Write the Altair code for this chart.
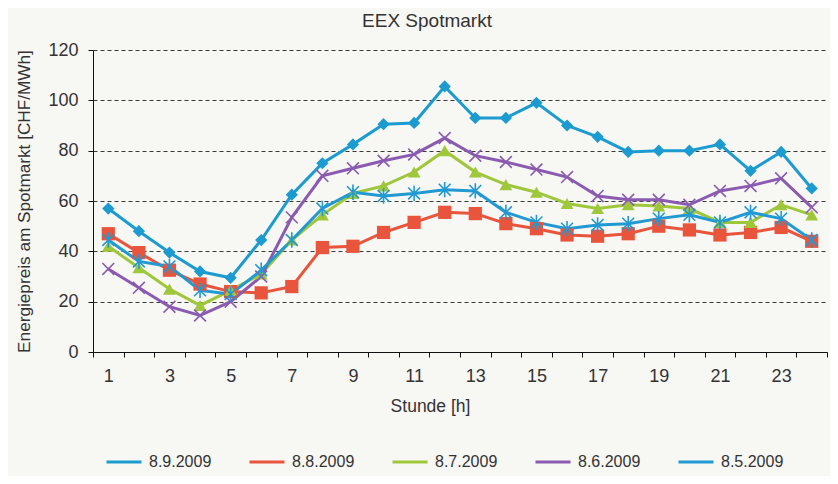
import altair as alt
import pandas as pd

hours = list(range(1, 25))
series_names = ["8.9.2009", "8.8.2009", "8.7.2009", "8.6.2009", "8.5.2009"]
s_0909 = [57, 48, 39.5, 32, 29.5, 44.5, 62.5, 75, 82.5, 90.5, 91, 105.5,
          93, 93, 99, 90, 85.5, 79.5, 80, 80, 82.5, 72, 79.5, 65]
s_0808 = [47, 39.5, 32.5, 27, 24, 23.5, 26, 41.5, 42, 47.5, 51.5, 55.5,
          55, 51, 49, 46.5, 46, 47, 50, 48.5, 46.5, 47.5, 49.5, 44]
s_0707 = [42, 33.5, 25, 18.5, 24.5, 31, 44.5, 54.5, 63, 66, 71.5, 80,
          71.5, 66.5, 63.5, 59, 57, 58.5, 58, 57, 51.5, 51.5, 58.5, 54.5]
s_0606 = [33, 25.5, 18, 14.5, 20, 30, 53.5, 70, 73, 76, 78.5, 85,
          78, 75.5, 72.5, 69.5, 62, 60.5, 60.5, 58.5, 64, 66, 69, 57.5]
s_0505 = [44.5, 36, 34, 24.5, 23, 32.5, 44.5, 57, 63.5, 62, 63, 64.5,
          64, 55.5, 51.5, 49, 50.5, 51, 53, 54.5, 51.5, 55.5, 53, 44.5]
y_ticks = [0, 20, 40, 60, 80, 100, 120]

colors = ["#1c9bd0", "#e8553c", "#9fc73b", "#8a5bb0", "#2199d2"]
shapes = ["diamond", "square", "triangle-up",
          "M-1,-1L1,1M-1,1L1,-1",
          "M-1,-1L1,1M-1,1L1,-1M0,-1.3L0,1.3"]
filled = [True, True, True, False, False]
sizes = [150, 175, 165, 140, 140]

rows = []
for name, vals in zip(series_names, [s_0909, s_0808, s_0707, s_0606, s_0505]):
    for h, v in zip(hours, vals):
        rows.append({"Stunde": h, "Preis": v, "Serie": name})
df = pd.DataFrame(rows)

FONT = "Liberation Sans"
TXT = "#333333"

x_tick_vals = [h - 0.5 for h in hours] + [24.5]

x = alt.X(
    "Stunde:Q",
    scale=alt.Scale(domain=[0.5, 24.5], nice=False, zero=False),
    axis=alt.Axis(
        values=x_tick_vals,
        labelExpr="((datum.value + 0.5) % 2 == 1 && datum.value < 23) ? '' + (datum.value + 0.5) : ''",
        labelOffset=15.3,
        labelOverlap=False,
        labelFlush=False,
        grid=False,
        tickSize=5,
        tickColor="#111111",
        domainColor="#111111",
        labelFontSize=18,
        labelFont=FONT,
        labelColor=TXT,
        labelPadding=10,
        title="Stunde [h]",
        titleFont=FONT,
        titleFontSize=17.5,
        titleFontWeight="normal",
        titleColor=TXT,
        titlePadding=12,
        titleX=337,
    ),
)
y = alt.Y(
    "Preis:Q",
    scale=alt.Scale(domain=[0, 120], nice=False),
    axis=alt.Axis(
        values=y_ticks,
        grid=True,
        gridDash=[4, 3],
        gridColor="#3a3a3a",
        gridWidth=1,
        tickSize=5,
        tickColor="#111111",
        domainColor="#111111",
        labelFontSize=18,
        labelFont=FONT,
        labelColor=TXT,
        labelPadding=10,
        title="Energiepreis am Spotmarkt [CHF/MWh]",
        titleFont=FONT,
        titleFontSize=17.2,
        titleFontWeight="normal",
        titleColor=TXT,
        titlePadding=14,
    ),
)

color = alt.Color(
    "Serie:N",
    sort=series_names,
    scale=alt.Scale(domain=series_names, range=colors),
    legend=alt.Legend(
        title=None,
        orient="none",
        direction="horizontal",
        columns=5,
        legendX=12,
        legendY=393,
        symbolType="stroke",
        symbolSize=1225,
        symbolStrokeWidth=3,
        labelFont=FONT,
        labelFontSize=16,
        labelColor=TXT,
        labelOffset=6,
        columnPadding=31,
    ),
)

base = alt.Chart(df)
layers = [base.mark_line(strokeWidth=3).encode(x=x, y=y, color=color)]
for name, col, shp, fil, sz in zip(series_names, colors, shapes, filled, sizes):
    pt = base.transform_filter(alt.datum.Serie == name).mark_point(
        shape=shp, filled=fil, opacity=1, size=sz,
        strokeWidth=1.6 if not fil else 1,
    ).encode(x=x, y=y, color=alt.value(col))
    layers.append(pt)

chart = alt.layer(*layers).properties(
    width=734,
    height=302,
    autosize=alt.AutoSizeParams(type="none"),
    padding={"left": 85, "top": 42, "right": 3, "bottom": 124},
    background="#f7f7f4",
    title=alt.TitleParams(
        "EEX Spotmarkt", font=FONT, fontSize=19, fontWeight="normal",
        color=TXT, dx=-33, offset=10,
    ),
).configure_view(stroke=None)

chart.save("out.html", embed_options={"renderer": "svg", "actions": False})
